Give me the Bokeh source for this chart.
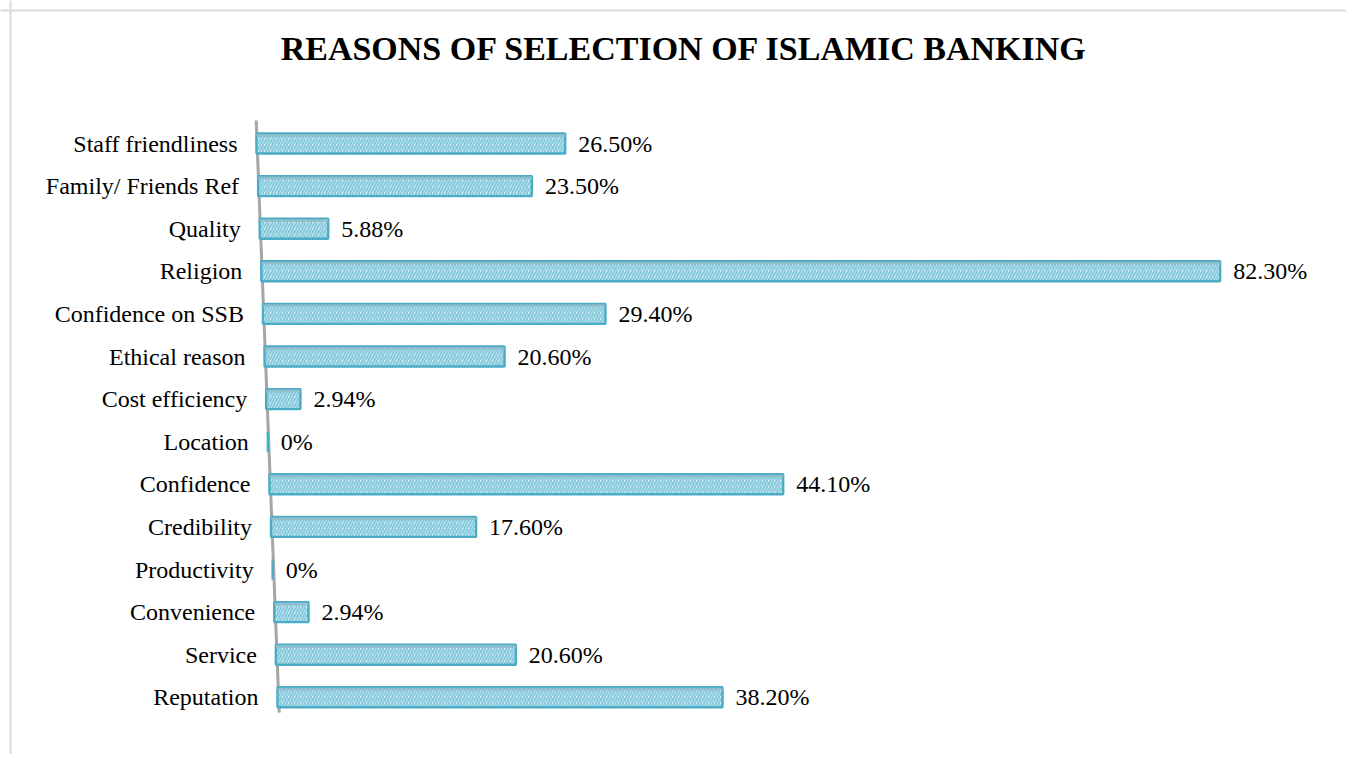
from bokeh.plotting import figure
from bokeh.models import ColumnDataSource, Range1d, Label, Span
from bokeh.core.properties import value
from bokeh.embed import file_html
from bokeh.resources import INLINE

# ---- data (top to bottom as shown) ----
categories = ["Staff friendliness", "Family/ Friends Ref", "Quality", "Religion",
              "Confidence on SSB", "Ethical reason", "Cost efficiency", "Location",
              "Confidence", "Credibility", "Productivity", "Convenience", "Service",
              "Reputation"]
values = [26.5, 23.5, 5.88, 82.3, 29.4, 20.6, 2.94, 0, 44.1, 17.6, 0, 2.94, 20.6, 38.2]
value_labels = ["26.50%", "23.50%", "5.88%", "82.30%", "29.40%", "20.60%", "2.94%",
                "0%", "44.10%", "17.60%", "0%", "2.94%", "20.60%", "38.20%"]
title_text = "REASONS OF SELECTION OF ISLAMIC BANKING"

# ---- layout helpers (perspective skew of the Excel 3-D chart) ----
SKEW = 0.1386          # horizontal shift (in % units) per row going down
BAR_H = 0.47
PX_X = 11.65           # pixels per percent
PX_Y = 42.6            # pixels per row
n = len(categories)
rows = list(range(n))
ys = [-i for i in rows]
offs = [i * SKEW for i in rows]
rights = [o + v for o, v in zip(offs, values)]

src = ColumnDataSource(dict(y=ys, left=offs, right=rights, cat=categories,
                            lab=value_labels,
                            ytop=[y + BAR_H / 2 - 0.045 for y in ys]))

W, H = 1346, 754
x0 = -256 / PX_X
x1 = x0 + W / PX_X
y_top = 143 / PX_Y
y_bot = y_top - H / PX_Y

p = figure(width=W, height=H, output_backend="svg", toolbar_location=None,
           x_range=Range1d(x0, x1), y_range=Range1d(y_bot, y_top),
           x_axis_location=None, y_axis_location=None, min_border=0)
p.xgrid.visible = False
p.ygrid.visible = False
p.outline_line_color = None
p.background_fill_color = "white"
p.border_fill_color = "white"

# chart-area border (left and top edges visible in the reference)
p.add_layout(Span(location=x0 + 10 / PX_X, dimension="height",
                  line_color="#d9d9d9", line_width=2))
p.add_layout(Span(location=y_top - 10 / PX_Y, dimension="width",
                  line_color="#d9d9d9", line_width=2))

# slanted category axis line
ax_top, ax_bot = 0.54, -13.36
p.segment(x0=[-ax_top * SKEW + 0.05], y0=[ax_top], x1=[-ax_bot * SKEW + 0.1], y1=[ax_bot],
          line_color="#a6a6a6", line_width=3)

# bars
p.hbar(y="y", left="left", right="right", height=BAR_H, source=src,
       fill_color="#e4f4f9", hatch_pattern="/", hatch_color="#86cbdd",
       hatch_scale=6, hatch_weight=2.2,
       line_color="#4bacc6", line_width=2.4)
# darker top face (3-D look)
p.hbar(y="ytop", left="left", right="right", height=0.07, source=src,
       fill_color="#8fbccb", line_color=None, fill_alpha=0.8)

# category labels
p.text(x="left", y="y", text="cat", source=src, x_offset=-19,
       text_font=value("Liberation Serif"), text_font_size="24px",
       text_align="right", text_baseline="middle", text_color="#000000")

# value labels
p.text(x="right", y="y", text="lab", source=src, x_offset=13,
       text_font=value("Liberation Serif"), text_font_size="24px",
       text_align="left", text_baseline="middle", text_color="#000000")

# title
p.add_layout(Label(x=x0 + 684 / PX_X, y=y_top - 48 / PX_Y, text=title_text,
                   text_font="Liberation Serif", text_font_size="34px",
                   text_font_style="bold", text_align="center",
                   text_baseline="middle", text_color="#000000"))

open("out.html", "w").write(file_html(p, INLINE))
